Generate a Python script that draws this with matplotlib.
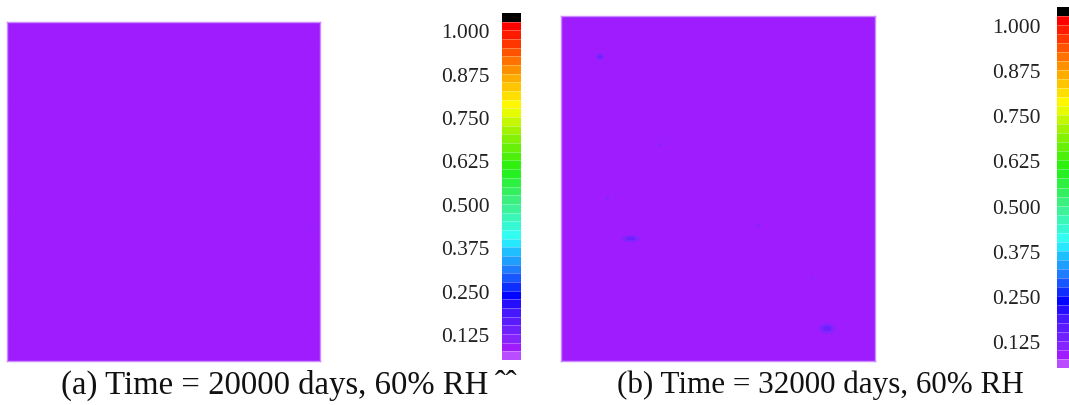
import numpy as np
import matplotlib
matplotlib.use("Agg")
import matplotlib.pyplot as plt
from matplotlib.colors import ListedColormap, BoundaryNorm

# ---- data -------------------------------------------------------------
captions = ["(a) Time = 20000 days, 60% RH\u2009\u02c6\u02c6",
            "(b) Time = 32000 days, 60% RH"]
level_min, level_max, level_step = 0.05, 1.05, 0.025
tick_values = [0.125, 0.250, 0.375, 0.500, 0.625, 0.750, 0.875, 1.000]

# background damage level in each panel
base_level = [0.085, 0.085]

# localized spots in panel (b): centre (fraction of width / height from top),
# half-sizes and peak level
spot_x = [0.123, 0.317, 0.148, 0.221, 0.626, 0.797, 0.845]
spot_y = [0.117, 0.373, 0.529, 0.646, 0.607, 0.759, 0.907]
spot_sx = [0.013, 0.006, 0.006, 0.025, 0.006, 0.006, 0.021]
spot_sy = [0.009, 0.006, 0.006, 0.009, 0.006, 0.006, 0.013]
spot_peak = [0.135, 0.112, 0.112, 0.140, 0.112, 0.112, 0.145]

# ---- colour scale -----------------------------------------------------
anchor_pos = [0.0625, 0.0875, 0.1125, 0.20, 0.235, 0.30, 0.375, 0.40,
              0.50, 0.60, 0.70, 0.78, 0.875, 0.95, 1.0125]
anchor_col = ["#B84EFF", "#A01CFF", "#8424FF", "#3A16FF", "#0000FF",
              "#1E6CFF", "#1ED0FF", "#30FFFF", "#40F08C", "#22F012",
              "#92F000", "#FFFF00", "#FFA000", "#FF4400", "#FF0000"]
anchor_rgb = np.array([matplotlib.colors.to_rgb(c) for c in anchor_col])

bounds = np.linspace(level_min, level_max, 41)
centres = 0.5 * (bounds[:-1] + bounds[1:])
band_colors = [tuple(np.interp(v, anchor_pos, anchor_rgb[:, j]) for j in range(3))
               for v in centres[:-1]]
band_colors.append((0.0, 0.0, 0.0))
cmap = ListedColormap(band_colors)
norm = BoundaryNorm(bounds, cmap.N)

# ---- fields -----------------------------------------------------------
ny, nx = 345, 314
yy, xx = np.mgrid[0:1:ny * 1j, 0:1:nx * 1j]

fields = []
for k in range(2):
    f = np.full((ny, nx), base_level[k])
    if k == 1:
        for cx, cy, sx, sy, pk in zip(spot_x, spot_y, spot_sx, spot_sy, spot_peak):
            g = np.exp(-(((xx - cx) / sx) ** 2 + ((yy - cy) / sy) ** 2))
            f = np.maximum(f, base_level[k] + (pk - base_level[k]) * g)
    fields.append(f)

# ---- figure -----------------------------------------------------------
W, H = 1069, 406
fig = plt.figure(figsize=(W / 100, H / 100), dpi=100)
fig.patch.set_facecolor("white")

def box(x0, y0, x1, y1):
    return [x0 / W, 1 - y1 / H, (x1 - x0) / W, (y1 - y0) / H]

panel_boxes = [box(7, 23, 320, 362), box(561, 17, 875, 362)]
cbar_boxes = [box(502, 14, 521, 361), box(1057, 8, 1076, 369)]
caption_left = [61, 617]
caption_y = 385
caption_size = [23.6, 22.4]

serif = ["Liberation Serif", "DejaVu Serif"]

for k in range(2):
    ax = fig.add_axes(panel_boxes[k])
    im = ax.imshow(fields[k], cmap=cmap, norm=norm, aspect="auto",
                   interpolation="antialiased")
    ax.set_xticks([])
    ax.set_yticks([])
    for s in ax.spines.values():
        s.set_edgecolor("#C98BFF")
        s.set_linewidth(1.0)

    cax = fig.add_axes(cbar_boxes[k])
    cb = fig.colorbar(im, cax=cax, boundaries=bounds, ticks=tick_values,
                      drawedges=True)
    cb.outline.set_visible(False)
    cb.dividers.set_color((1, 1, 1, 0.35))
    cb.dividers.set_linewidth(0.6)
    cax.minorticks_off()
    cax.yaxis.set_ticks_position("left")
    cax.tick_params(length=0, pad=9 if k == 0 else 12)
    cax.set_yticklabels([f"{v:.3f}" for v in tick_values])
    for t in cax.get_yticklabels():
        t.set_family(serif)
        t.set_fontsize(15.5)
        t.set_color("#222222")

    fig.text(caption_left[k] / W, 1 - caption_y / H, captions[k],
             ha="left", va="center", fontsize=caption_size[k], family=serif,
             color="#111111")

fig.savefig("out.png", dpi=100, facecolor="white")
